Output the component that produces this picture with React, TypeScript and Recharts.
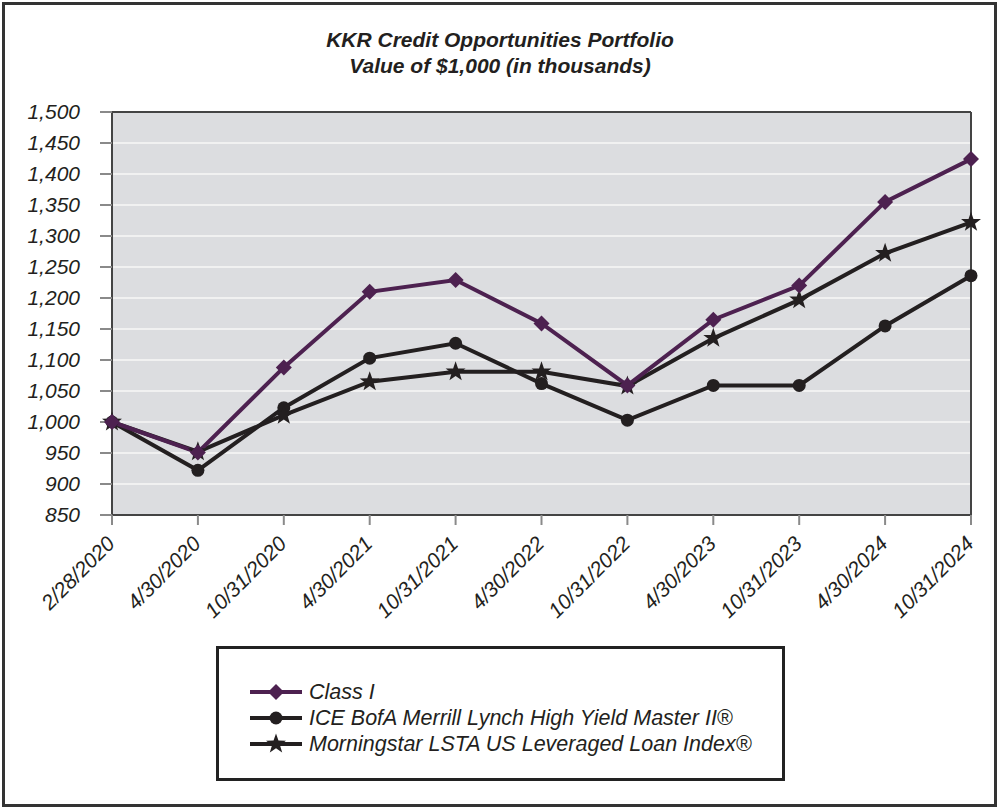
import { LineChart, Line, XAxis, YAxis, CartesianGrid, ReferenceLine } from 'recharts';

// Growth of $1,000, semi-annual points.
const dates = [
  '2/28/2020',
  '4/30/2020',
  '10/31/2020',
  '4/30/2021',
  '10/31/2021',
  '4/30/2022',
  '10/31/2022',
  '4/30/2023',
  '10/31/2023',
  '4/30/2024',
  '10/31/2024',
];
const classI = [1000, 951, 1088, 1210, 1229, 1159, 1059, 1165, 1220, 1355, 1424];
const iceHighYield = [1000, 922, 1023, 1103, 1127, 1062, 1003, 1059, 1059, 1155, 1236];
const lstaLoan = [1000, 952, 1011, 1065, 1081, 1081, 1058, 1135, 1197, 1272, 1322];
const yTicks = [850, 900, 950, 1000, 1050, 1100, 1150, 1200, 1250, 1300, 1350, 1400, 1450, 1500];

const PURPLE = '#4d2150';
const INK = '#231f20';
const FONT = '"Liberation Sans", Arial, Helvetica, sans-serif';

const rows = dates.map((d, i) => ({
  date: d,
  classI: classI[i],
  ice: iceHighYield[i],
  lsta: lstaLoan[i],
}));

function Diamond({ cx, cy, fill }: { cx?: number; cy?: number; fill: string }) {
  if (cx == null || cy == null) return null;
  const r = 8;
  return <polygon points={`${cx},${cy - r} ${cx + r},${cy} ${cx},${cy + r} ${cx - r},${cy}`} fill={fill} />;
}

function Dot({ cx, cy, fill }: { cx?: number; cy?: number; fill: string }) {
  if (cx == null || cy == null) return null;
  return <circle cx={cx} cy={cy} r={6.5} fill={fill} />;
}

function Star({ cx, cy, fill }: { cx?: number; cy?: number; fill: string }) {
  if (cx == null || cy == null) return null;
  const outer = 10.5;
  const inner = 4.2;
  const pts: string[] = [];
  for (let k = 0; k < 10; k++) {
    const a = -Math.PI / 2 + (k * Math.PI) / 5;
    const rr = k % 2 === 0 ? outer : inner;
    pts.push(`${cx + rr * Math.cos(a)},${cy + rr * Math.sin(a)}`);
  }
  return <polygon points={pts.join(' ')} fill={fill} />;
}

// Slanted date labels hanging off each tick.
function DateTick({ x, y, payload }: { x?: number; y?: number; payload?: { value: string } }) {
  if (x == null || y == null || !payload) return null;
  return (
    <g transform={`translate(${x + 4},${y + 18}) rotate(-45)`}>
      <text textAnchor="end" fontSize={21} fontStyle="italic" fill={INK} fontFamily={FONT}>
        {payload.value}
      </text>
    </g>
  );
}

function LegendRow({ label, kind, color }: { label: string; kind: 'diamond' | 'dot' | 'star'; color: string }) {
  return (
    <div style={{ display: 'flex', alignItems: 'center', height: 26 }}>
      <svg width={54} height={26} style={{ marginRight: 6 }}>
        <line x1={1} y1={13} x2={53} y2={13} stroke={color} strokeWidth={4} />
        {kind === 'diamond' && <Diamond cx={27} cy={13} fill={color} />}
        {kind === 'dot' && <Dot cx={27} cy={13} fill={color} />}
        {kind === 'star' && <Star cx={27} cy={13} fill={color} />}
      </svg>
      <span>{label}</span>
    </div>
  );
}

export default function App() {
  return (
    <div
      style={{
        position: 'absolute',
        left: 0,
        top: 0,
        width: 1000,
        height: 810,
        background: '#fff',
        fontFamily: FONT,
        color: INK,
      }}
    >
      <div
        style={{
          position: 'absolute',
          left: 2,
          top: 2,
          width: 989,
          height: 799,
          border: '3px solid #333',
        }}
      />
      <div
        style={{
          position: 'absolute',
          left: 0,
          top: 27,
          width: 1000,
          textAlign: 'center',
          fontWeight: 'bold',
          fontStyle: 'italic',
          fontSize: 21,
          lineHeight: '26px',
        }}
      >
        KKR Credit Opportunities Portfolio
        <br />
        Value of $1,000 (in thousands)
      </div>

      <div style={{ position: 'absolute', left: 0, top: 0 }}>
        <LineChart width={1000} height={810} data={rows} margin={{ top: 112, right: 29, bottom: 195, left: 0 }}>
          <CartesianGrid
            vertical={false}
            fill="#dcdde0"
            fillOpacity={1}
            stroke="#f1f1f1"
            strokeWidth={2}
          />
          <XAxis
            dataKey="date"
            height={100}
            interval={0}
            stroke="#444"
            strokeWidth={2}
            tickSize={10}
            tickLine={{ stroke: '#8a8a8a', strokeWidth: 2 }}
            tick={<DateTick />}
          />
          <YAxis
            width={112}
            domain={[850, 1500]}
            ticks={yTicks}
            interval={0}
            stroke="#444"
            strokeWidth={2}
            tickSize={12}
            tickMargin={20}
            tickLine={{ stroke: '#8a8a8a', strokeWidth: 2 }}
            tick={{ fontSize: 21, fontStyle: 'italic', fill: INK, fontFamily: FONT }}
            tickFormatter={(v: number) => v.toLocaleString('en-US')}
          />
          {/* Close the plot box on top and right. */}
          <ReferenceLine y={1500} stroke="#444" strokeWidth={2} />
          <ReferenceLine x="10/31/2024" stroke="#444" strokeWidth={2} />
          <Line
            dataKey="ice"
            stroke={INK}
            strokeWidth={4}
            dot={<Dot fill={INK} />}
            activeDot={false}
            isAnimationActive={false}
          />
          <Line
            dataKey="lsta"
            stroke={INK}
            strokeWidth={4}
            dot={<Star fill={INK} />}
            activeDot={false}
            isAnimationActive={false}
          />
          <Line
            dataKey="classI"
            stroke={PURPLE}
            strokeWidth={4}
            dot={<Diamond fill={PURPLE} />}
            activeDot={false}
            isAnimationActive={false}
          />
        </LineChart>
      </div>

      <div
        style={{
          position: 'absolute',
          left: 216,
          top: 646,
          width: 563,
          height: 129,
          border: '3px solid #222',
          boxSizing: 'content-box',
          fontSize: 21.5,
          fontStyle: 'italic',
        }}
      >
        <div style={{ position: 'absolute', left: 30, top: 30 }}>
          <LegendRow label="Class I" kind="diamond" color={PURPLE} />
          <LegendRow label="ICE BofA Merrill Lynch High Yield Master II®" kind="dot" color={INK} />
          <LegendRow label="Morningstar LSTA US Leveraged Loan Index®" kind="star" color={INK} />
        </div>
      </div>
    </div>
  );
}
